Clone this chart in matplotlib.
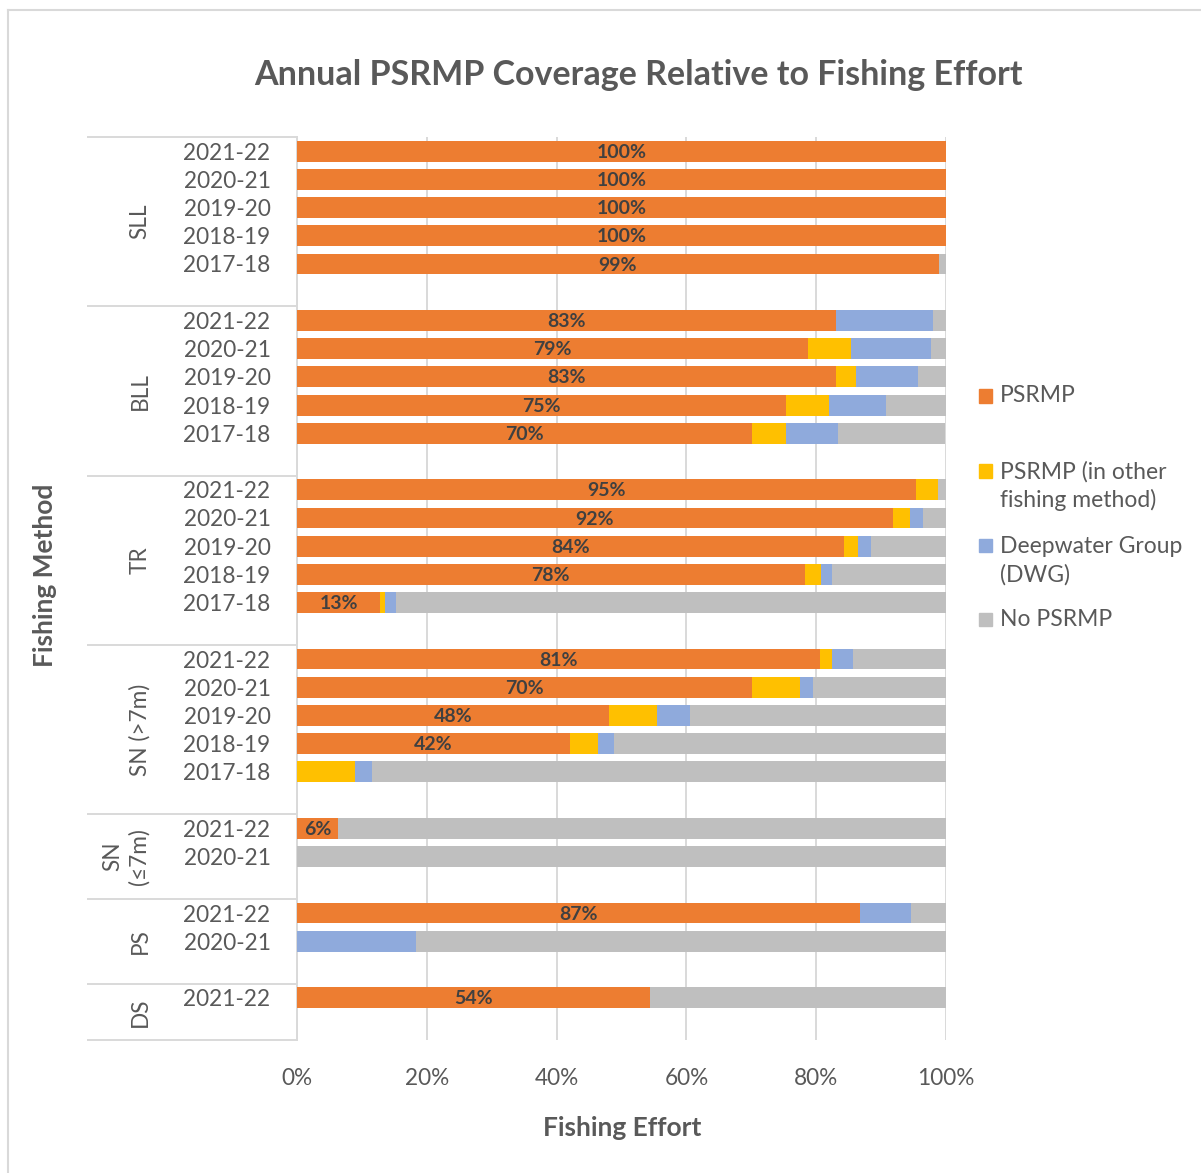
import matplotlib
matplotlib.use("Agg")
import matplotlib.pyplot as plt
from matplotlib.patches import Rectangle
from matplotlib.lines import Line2D
import matplotlib.transforms as mtransforms

plt.rcParams['font.family'] = ['Lato', 'DejaVu Sans']

# ---------------- data ----------------
groups = ["SLL", "BLL", "TR", "SN (>7m)", "SN\n(≤7m)", "PS", "DS"]
group_years = [
    ["2021-22", "2020-21", "2019-20", "2018-19", "2017-18"],
    ["2021-22", "2020-21", "2019-20", "2018-19", "2017-18"],
    ["2021-22", "2020-21", "2019-20", "2018-19", "2017-18"],
    ["2021-22", "2020-21", "2019-20", "2018-19", "2017-18"],
    ["2021-22", "2020-21"],
    ["2021-22", "2020-21"],
    ["2021-22"],
]
psrmp = [100, 100, 100, 100, 98.9,
         83.1, 78.8, 83.1, 75.4, 70.1,
         95.4, 91.8, 84.3, 78.2, 12.8,
         80.6, 70.1, 48.0, 42.0, 0,
         6.3, 0,
         86.8, 0,
         54.4]
psrmp_other = [0, 0, 0, 0, 0,
               0, 6.5, 3.1, 6.5, 5.3,
               3.3, 2.7, 2.1, 2.6, 0.8,
               1.9, 7.4, 7.4, 4.4, 8.9,
               0, 0,
               0, 0,
               0]
dwg = [0, 0, 0, 0, 0,
       14.9, 12.4, 9.5, 8.9, 8.0,
       0, 2.0, 2.1, 1.6, 1.7,
       3.1, 2.0, 5.2, 2.4, 2.6,
       0, 0,
       7.8, 18.3,
       0]
no_psrmp = [0, 0, 0, 0, 1.1,
            2.0, 2.3, 4.3, 9.2, 16.5,
            1.3, 3.5, 11.5, 17.6, 84.7,
            14.4, 20.5, 39.4, 51.2, 88.5,
            93.7, 100,
            5.4, 81.7,
            45.6]
series_names = ["PSRMP", "PSRMP (in other\nfishing method)", "Deepwater Group\n(DWG)", "No PSRMP"]
colors = ["#ED7D31", "#FFC000", "#8FAADC", "#BFBFBF"]
x_ticks = [0, 20, 40, 60, 80, 100]

# ---------------- layout ----------------
W, H = 1201, 1173
fig = plt.figure(figsize=(W / 100, H / 100), dpi=100)
ax_l, ax_r, ax_t, ax_b = 297, 946, 137, 1040
ax = fig.add_axes([ax_l / W, 1 - ax_b / H, (ax_r - ax_l) / W, (ax_b - ax_t) / H])

# positions: each group gets one extra empty slot
ys, ylabels, boundaries, group_centers = [], [], [0], []
slot = 0
for g, yrs in zip(groups, group_years):
    start = slot
    for yr in yrs:
        ys.append(slot + 0.5)
        ylabels.append(yr)
        slot += 1
    slot += 1
    boundaries.append(slot)
    group_centers.append((start + slot) / 2)
n_slots = slot

left = [0.0] * len(ys)
for vals, c in zip([psrmp, psrmp_other, dwg, no_psrmp], colors):
    ax.barh(ys, vals, left=left, height=0.74, color=c, zorder=3)
    left = [a + b for a, b in zip(left, vals)]

for y, v in zip(ys, psrmp):
    if v > 0:
        ax.text(v / 2, y + 0.04, f"{round(v)}%", ha='center', va='center',
                fontsize=14, fontweight='bold', color='#404040', zorder=4)

ax.set_xlim(0, 100)
ax.set_ylim(n_slots, 0)
ax.set_xticks(x_ticks)
ax.set_xticklabels([f"{t}%" for t in x_ticks])
ax.set_yticks(ys)
ax.set_yticklabels(ylabels)
ax.tick_params(axis='y', length=0, pad=19, labelsize=16.3, labelcolor='#595959')
ax.tick_params(axis='x', length=0, pad=20, labelsize=16.3, labelcolor='#595959')
ax.grid(axis='x', color='#D9D9D9', lw=1.4, zorder=0)
ax.set_axisbelow(True)
for s in ['top', 'right', 'bottom']:
    ax.spines[s].set_visible(False)
ax.spines['left'].set_color('#D9D9D9')
ax.spines['left'].set_linewidth(1.4)

# group separators and labels
trans = mtransforms.blended_transform_factory(ax.transAxes, ax.transData)
x0 = (88 - ax_l) / (ax_r - ax_l)
for b in boundaries:
    ax.add_line(Line2D([x0, 0], [b, b], transform=trans, color='#D9D9D9',
                       lw=1.4, clip_on=False))
gx = (140 - ax_l) / (ax_r - ax_l)
gx2 = (126 - ax_l) / (ax_r - ax_l)
for g, c in zip(groups, group_centers):
    ax.text(gx2 if "\n" in g else gx, c, g, transform=trans, rotation=90,
            ha='center', va='center', fontsize=16.3, color='#595959',
            multialignment='center', linespacing=1.3)

# titles
fig.text(638 / W, 1 - 75 / H, "Annual PSRMP Coverage Relative to Fishing Effort",
         ha='center', va='center', fontsize=24.5, fontweight='bold', color='#595959')
fig.text(622 / W, 1 - 1128 / H, "Fishing Effort", ha='center', va='center',
         fontsize=19, fontweight='bold', color='#595959')
fig.text(45 / W, 1 - 575 / H, "Fishing Method", ha='center', va='center',
         rotation=90, fontsize=19, fontweight='bold', color='#595959')

# legend (manual)
leg_sq_y = [396, 471, 545, 619]
leg_txt_y = [396, 486, 561, 619]
for name, c, sy, ty in zip(series_names, colors, leg_sq_y, leg_txt_y):
    fig.add_artist(Rectangle((979 / W, 1 - (sy + 6.5) / H), 13 / W, 13 / H,
                             transform=fig.transFigure, color=c))
    fig.text(1000 / W, 1 - ty / H, name, ha='left', va='center', fontsize=16.5,
             color='#595959', linespacing=1.4)

# chart border
fig.add_artist(Line2D([8 / W, 8 / W], [0, 1 - 10 / H], transform=fig.transFigure,
                      color='#D9D9D9', lw=1.5))
fig.add_artist(Line2D([8 / W, 1], [1 - 10 / H, 1 - 10 / H], transform=fig.transFigure,
                      color='#D9D9D9', lw=1.5))

fig.savefig("out.png", dpi=100, facecolor='white')
